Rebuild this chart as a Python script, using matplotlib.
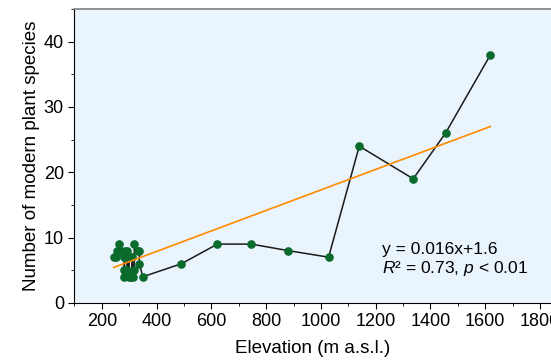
import matplotlib.pyplot as plt
from matplotlib.ticker import MultipleLocator
import numpy as np

plt.rcParams['font.family'] = ['Liberation Sans', 'DejaVu Sans']
plt.rcParams['mathtext.fontset'] = 'custom'
plt.rcParams['mathtext.rm'] = 'Liberation Sans'
plt.rcParams['mathtext.it'] = 'Liberation Sans:italic'

# sampling sites: elevation (m a.s.l.) and number of modern plant species
elevation = [244, 251, 254, 264, 269, 282, 282, 282, 286, 292, 292, 300, 300, 308,
             312, 313, 318, 319, 331, 337, 337, 350, 491, 622, 746, 881, 1028,
             1140, 1337, 1455, 1619]
species = [7, 7, 8, 9, 8, 7, 4, 5, 8, 8, 5, 7, 4, 4,
           7, 4, 5, 9, 8, 8, 6, 4, 6, 9, 9, 8, 7,
           24, 19, 26, 38]

# linear fit as printed on the chart
slope = 0.0157
intercept = 1.6
eq_text = "y = 0.016x+1.6"
stat_text = "$R$\u00b2 = 0.73, $p$ < 0.01"

fig = plt.figure(figsize=(5.51, 3.61), dpi=100)
ax = fig.add_axes([0.135, 0.161, 0.865, 0.814])
ax.set_facecolor('#eaf4fc')

ax.plot(elevation, species, color='#1a1a1a', lw=1.1, zorder=2)
ax.plot(elevation, species, 'o', color='#0b6b2c', ms=5.2, mec='#0b6b2c', zorder=3)

xfit = np.array([min(elevation), max(elevation)])
ax.plot(xfit, slope * xfit + intercept, color='#ff8a00', lw=1.2, zorder=4)

ax.text(0.645, 0.085, eq_text + "\n" + stat_text, transform=ax.transAxes,
        fontsize=12.5, linespacing=1.15, va='bottom', ha='left')

ax.set_xlim(100, 1840)
ax.set_ylim(0, 45)
ax.xaxis.set_major_locator(MultipleLocator(200))
ax.xaxis.set_minor_locator(MultipleLocator(100))
ax.yaxis.set_major_locator(MultipleLocator(10))
ax.yaxis.set_minor_locator(MultipleLocator(5))
ax.set_xticks(range(200, 1801, 200))
ax.tick_params(which='both', direction='out', labelsize=13)
ax.tick_params(which='major', length=4)
ax.tick_params(which='minor', length=2.5)

ax.spines['right'].set_visible(False)
ax.spines['top'].set_color('#808080')
ax.spines['top'].set_linewidth(1.2)

ax.set_xlabel('Elevation (m a.s.l.)', fontsize=13.5, labelpad=7)
ax.set_ylabel('Number of modern plant species', fontsize=13.5, labelpad=3)

fig.savefig('out.png', dpi=100)
